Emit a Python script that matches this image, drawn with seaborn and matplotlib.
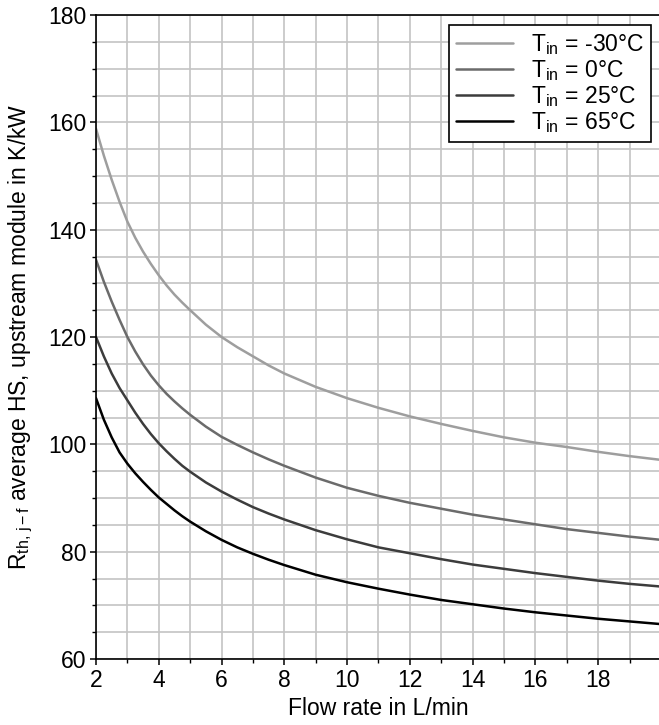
import matplotlib
matplotlib.use("Agg")
import matplotlib.pyplot as plt
import numpy as np
import pandas as pd
import seaborn as sns
from matplotlib.ticker import MultipleLocator

# Flow rate (L/min) and thermal resistance (K/kW) per inlet temperature
flow = [2, 2.25, 2.5, 2.75, 3, 3.25, 3.5, 3.75, 4, 4.25, 4.5, 4.75, 5, 5.5, 6, 6.5, 7, 7.5, 8,
        9, 10, 11, 12, 13, 14, 15, 16, 17, 18, 19, 20]
r_m30 = [158.8, 153.8, 149.3, 145.2, 141.5, 138.5, 135.9, 133.6, 131.5, 129.6, 127.9, 126.4,
         125.0, 122.3, 120.0, 118.1, 116.4, 114.7, 113.2,
         110.7, 108.6, 106.8, 105.2, 103.8, 102.5, 101.3, 100.3, 99.5, 98.6, 97.8, 97.1]
r_0 = [134.4, 130.3, 126.6, 123.2, 120.0, 117.3, 114.9, 112.8, 111.0, 109.4, 108.0, 106.7,
       105.5, 103.3, 101.4, 99.9, 98.5, 97.2, 96.0,
       93.8, 91.9, 90.4, 89.1, 88.0, 86.9, 86.0, 85.1, 84.2, 83.5, 82.8, 82.2]
r_25 = [120.0, 116.4, 113.2, 110.5, 108.2, 105.9, 103.8, 101.9, 100.2, 98.7, 97.3, 96.0,
        94.9, 92.9, 91.2, 89.7, 88.3, 87.1, 86.0,
        84.0, 82.3, 80.8, 79.7, 78.6, 77.6, 76.8, 76.0, 75.3, 74.6, 74.0, 73.5]
r_65 = [108.6, 104.6, 101.3, 98.5, 96.4, 94.6, 93.0, 91.5, 90.1, 88.9, 87.7, 86.6,
        85.6, 83.8, 82.2, 80.8, 79.6, 78.5, 77.5,
        75.7, 74.3, 73.1, 72.0, 71.0, 70.2, 69.4, 68.7, 68.1, 67.5, 67.0, 66.5]

series_labels = [r"T$_\mathregular{in}$ = -30°C", r"T$_\mathregular{in}$ = 0°C",
                 r"T$_\mathregular{in}$ = 25°C", r"T$_\mathregular{in}$ = 65°C"]
series_values = [r_m30, r_0, r_25, r_65]
line_colors = ["#9e9e9e", "#6b6b6b", "#3c3c3c", "#000000"]

x_ticks = [2, 4, 6, 8, 10, 12, 14, 16, 18]

df = pd.concat(
    [pd.DataFrame({"flow": flow, "R": vals, "series": lab})
     for lab, vals in zip(series_labels, series_values)],
    ignore_index=True,
)

sns.set_style("ticks")
plt.rcParams["font.family"] = ["Liberation Sans", "DejaVu Sans"]
plt.rcParams["mathtext.fontset"] = "custom"
plt.rcParams["mathtext.rm"] = "Liberation Sans"
plt.rcParams["mathtext.it"] = "Liberation Sans:italic"
plt.rcParams["axes.unicode_minus"] = True
for key in ["text.color", "axes.labelcolor", "xtick.color", "ytick.color", "axes.edgecolor"]:
    plt.rcParams[key] = "black"

FS = 16.5
fig = plt.figure(figsize=(6.59, 7.25), dpi=100)
ax = fig.add_axes([96 / 659, 66 / 725, 565 / 659, 644 / 725])

sns.lineplot(data=df, x="flow", y="R", hue="series", hue_order=series_labels,
             palette=line_colors, linewidth=1.8, errorbar=None, ax=ax)

ax.set_xlim(2, 20)
ax.set_ylim(60, 180)
ax.set_xticks(x_ticks)
ax.xaxis.set_minor_locator(MultipleLocator(1))
ax.yaxis.set_major_locator(MultipleLocator(20))
ax.yaxis.set_minor_locator(MultipleLocator(5))
ax.set_axisbelow(True)
ax.grid(which="both", color="#c4c4c4", linewidth=1.2)

ax.tick_params(which="major", direction="out", length=4, width=1.1, labelsize=FS, pad=3,
               colors="black")
ax.tick_params(which="minor", direction="out", length=3, width=1.0, colors="black")
for side in ["left", "bottom", "top", "right"]:
    ax.spines[side].set_linewidth(1.2)
    ax.spines[side].set_color("black")

ax.set_xlabel("Flow rate in L/min", fontsize=FS, labelpad=4)
ax.set_ylabel(r"R$_\mathregular{th,\,j-f}$ average HS, upstream module in K/kW", fontsize=FS)
ax.yaxis.set_label_coords(-0.108, 0.5)

leg = ax.legend(loc="upper right", fontsize=FS, frameon=True, fancybox=False,
                edgecolor="black", framealpha=1, handlelength=2.5, handletextpad=0.75,
                labelspacing=0.05, borderaxespad=0.45, borderpad=0.3)
leg.get_frame().set_linewidth(1.2)
for line in leg.get_lines():
    line.set_linewidth(1.8)

fig.savefig("out.png", dpi=100)
